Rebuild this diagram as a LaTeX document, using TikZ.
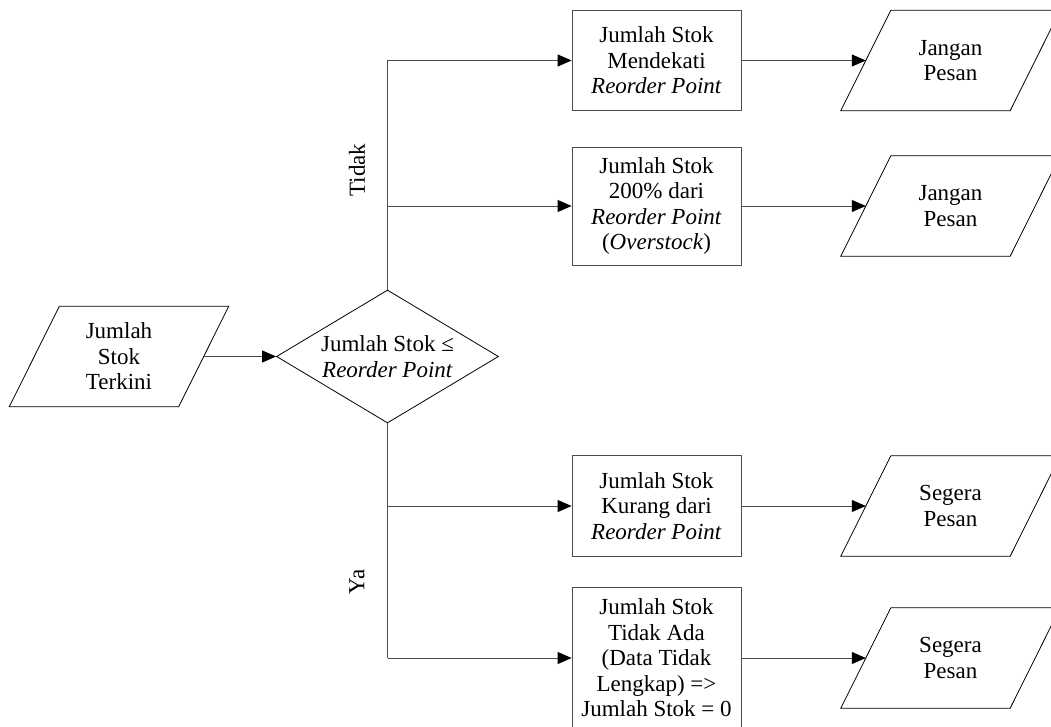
\documentclass[tikz,border=0pt]{standalone}
\usepackage{fontspec}
\setmainfont{Liberation Serif}
\usetikzlibrary{shapes.geometric,arrows.meta}
\tikzset{
  txt/.style={font=\fontsize{23}{25.5}\selectfont, align=center},
  procbox/.style={txt, draw=black!70, line width=0.8pt, minimum width=169pt, inner sep=0pt},
  iobox/.style={txt, minimum width=169pt, minimum height=100pt, inner sep=0pt},
  iodraw/.style={draw=black, line width=0.8pt},
  decbox/.style={txt, diamond, draw=black, line width=0.8pt, shape aspect=1.67, inner sep=0pt, minimum width=222pt, minimum height=133pt},
  conn/.style={draw=black!70, line width=0.8pt, -{Triangle[length=14pt,width=12pt,color=black]}},
  line/.style={draw=black!70, line width=0.8pt},
  lbl/.style={txt, rotate=90},
}
\newcommand\drawpara[1]{\draw[iodraw] ([xshift=25pt]#1.north west) -- ([xshift=25pt]#1.north east) -- ([xshift=-25pt]#1.south east) -- ([xshift=-25pt]#1.south west) -- cycle;}
\begin{document}
\begin{tikzpicture}[x=1pt,y=-1pt]
\useasboundingbox (0,0) rectangle (1051,727);
% input
\node[iobox] (in) at (119,356.5) {Jumlah\\Stok\\Terkini};
\drawpara{in}
% decision
\node[decbox] (dec) at (387.5,356.5) {Jumlah Stok \char"2264\\\textit{Reorder Point}};
% process boxes
\node[procbox, minimum height=100pt] (b1) at (656.5,60.5) {Jumlah Stok\\Mendekati\\\textit{Reorder Point}};
\node[procbox, minimum height=118pt] (b2) at (656.5,206) {Jumlah Stok\\200\% dari\\\textit{Reorder Point}\\(\textit{Overstock})};
\node[procbox, minimum height=101pt] (b3) at (656.5,506) {Jumlah Stok\\Kurang dari\\\textit{Reorder Point}};
\node[procbox, minimum height=142pt] (b4) at (656.5,658) {Jumlah Stok\\Tidak Ada\\(Data Tidak\\Lengkap) =>\\Jumlah Stok = 0};
% outputs
\node[iobox] (o1) at (950.5,60.5) {Jangan\\Pesan};
\drawpara{o1}
\node[iobox] (o2) at (950.5,206) {Jangan\\Pesan};
\drawpara{o2}
\node[iobox] (o3) at (950.5,506) {Segera\\Pesan};
\drawpara{o3}
\node[iobox] (o4) at (950.5,658) {Segera\\Pesan};
\drawpara{o4}
% junction coordinates
\coordinate (t1) at (387.5,60.5);
\coordinate (t2) at (387.5,206);
\coordinate (y1) at (387.5,506);
\coordinate (y2) at (387.5,658);
% connectors
\draw[conn] (in.east) -- (dec.west);
\draw[line] (dec.north) -- (t1);
\draw[conn] (t1) -- (b1.west);
\draw[conn] (t2) -- (b2.west);
\draw[line] (dec.south) -- (y2);
\draw[conn] (y2) -- (b4.west);
\draw[conn] (y1) -- (b3.west);
\draw[conn] (b1.east) -- (o1.west);
\draw[conn] (b2.east) -- (o2.west);
\draw[conn] (b3.east) -- (o3.west);
\draw[conn] (b4.east) -- (o4.west);
% labels
\node[lbl] (ltidak) at (357,170) {Tidak};
\node[lbl] (lya) at (357,582) {Ya};
\end{tikzpicture}
\end{document}
